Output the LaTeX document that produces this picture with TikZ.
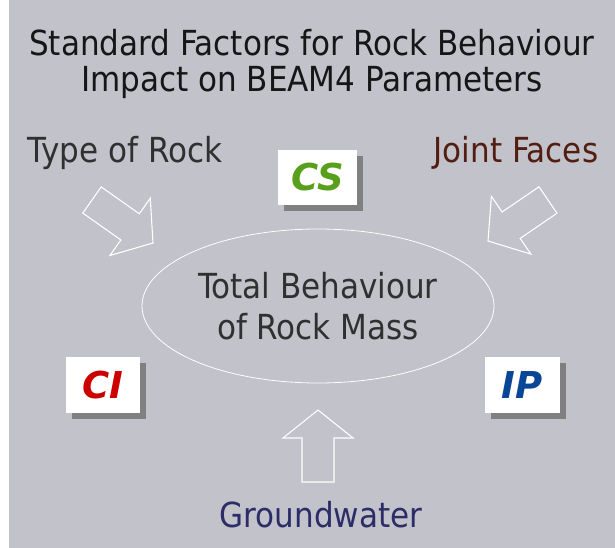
\documentclass[tikz,border=0pt]{standalone}
\usepackage{fontspec}
\setmainfont{DejaVu Sans Condensed}
\newfontfamily\tagfont{DejaVu Sans}
\usetikzlibrary{calc, positioning, shapes.geometric, shadows}

\definecolor{slab}{RGB}{193,194,202}
\definecolor{titleink}{RGB}{22,22,22}
\definecolor{rockink}{RGB}{48,48,48}
\definecolor{jointink}{RGB}{82,30,18}
\definecolor{waterink}{RGB}{44,44,104}
\definecolor{csgreen}{RGB}{88,160,28}
\definecolor{cired}{RGB}{205,0,0}
\definecolor{ipblue}{RGB}{10,70,150}
\definecolor{tagshadow}{RGB}{128,128,128}

% hollow block arrow: #1 name, #2 tail centre, #3 tip
\newcommand{\factorarrow}[3]{%
  \coordinate (#1-neck) at ($(#3)!28pt!(#2)$);
  \draw[blockarrow]
    ($(#2)!16pt!90:(#3)$) -- ($(#1-neck)!16pt!90:(#3)$) -- ($(#1-neck)!35pt!90:(#3)$)
    -- (#3) -- ($(#1-neck)!35pt!-90:(#3)$) -- ($(#1-neck)!16pt!-90:(#3)$)
    -- ($(#2)!16pt!-90:(#3)$) -- cycle;
}

\begin{document}
\begin{tikzpicture}[x=1pt, y=-1pt,
    factor/.style={font=\fontsize{34.5}{41}\selectfont, inner sep=0pt},
    tag/.style={fill=white, minimum width=76pt, minimum height=56pt, inner sep=0pt,
      font=\tagfont\bfseries\itshape\fontsize{37}{42}\selectfont,
      drop shadow={shadow xshift=6pt, shadow yshift=-6pt, fill=tagshadow, opacity=1}},
    blockarrow/.style={draw=white, line width=1.1pt, line join=miter}]

% page and stone background
\useasboundingbox (0,0) rectangle (615,548);
\fill[white] (0,0) rectangle (615,548);
\fill[slab] (9,0) rectangle (615,548);

% Title at top
\node[factor, anchor=base, text=titleink] (title) at (312,56) {Standard Factors for Rock Behaviour};
\node[factor, anchor=base, text=titleink] (title-sub) at (312,92) {Impact on BEAM4 Parameters};

% the four factors
\node[factor, anchor=base, text=rockink] (rock) at (125,163) {Type of Rock};
\node[factor, anchor=base, text=jointink] (joints) at (516,163) {Joint Faces};
\node[factor, anchor=base, text=waterink] (water) at (321,527) {Groundwater};

% rock mass in the middle
\node[ellipse, draw=white, line width=0.8pt, minimum width=352pt, minimum height=154pt,
  align=center, text=rockink, font=\fontsize{34.5}{41}\selectfont] (mass) at (318,306)
  {Total Behaviour\\of Rock Mass};

% parameter tags
\node[tag, minimum width=79pt, minimum height=55pt, text=csgreen] (cs) at (317.5,177.5) {CS};
\node[tag, minimum width=74pt, text=cired] (ci) at (103,385) {CI};
\node[tag, minimum width=75pt, text=ipblue] (ip) at (522,385) {IP};

% arrows pointing in to the rock mass
\coordinate (rock-tail) at (92,200);
\coordinate (rock-tip) at (153,243);
\coordinate (joints-tail) at (548,200);
\coordinate (joints-tip) at (488,241);
\coordinate (water-tail) at (318,482);
\coordinate (water-tip) at (318,410);
\factorarrow{rock-arrow}{rock-tail}{rock-tip}
\factorarrow{joints-arrow}{joints-tail}{joints-tip}
\factorarrow{water-arrow}{water-tail}{water-tip}

\end{tikzpicture}
\end{document}
